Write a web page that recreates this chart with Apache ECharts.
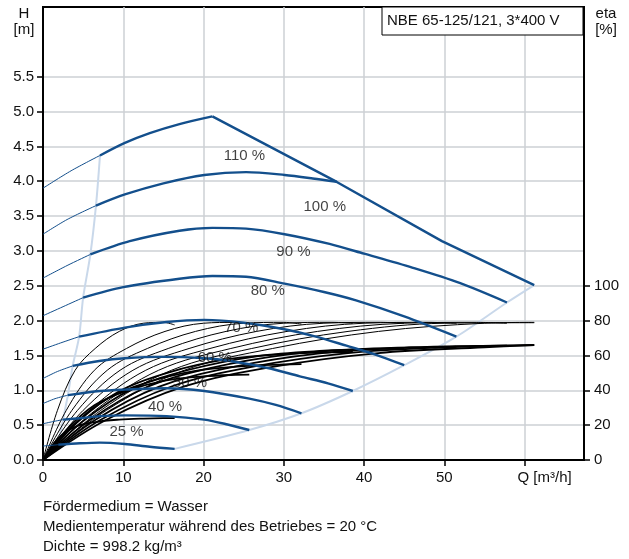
<!DOCTYPE html>
<html>
<head>
<meta charset="utf-8">
<script src="https://cdn.jsdelivr.net/npm/echarts@6/dist/echarts.min.js"></script>
<style>
html,body{margin:0;padding:0;background:#fff;}
#chart{width:629px;height:559px;}
</style>
</head>
<body>
<div id="chart"></div>
<script>
// ---------- data ----------
const xTicks = [0, 10, 20, 30, 40, 50, 60];
const hTicks = [0, 0.5, 1, 1.5, 2, 2.5, 3, 3.5, 4, 4.5, 5, 5.5];
const etaTicks = [0, 20, 40, 60, 80, 100];

// QH curves [Q m3/h, H m]
const qh110 = [[0,3.9],[3.5,4.15],[7.1,4.37],[10.2,4.55],[13.3,4.69],[17,4.82],[21.1,4.93]];
const qh100 = [[0,3.24],[3,3.45],[6.6,3.65],[10.2,3.81],[15,3.97],[20.1,4.09],[25.3,4.13],[30.1,4.09],[33.6,4.04],[36.6,3.99]];
const qh90  = [[0,2.61],[3,2.79],[5.9,2.95],[10.8,3.14],[17,3.29],[21.1,3.33],[25.3,3.32],[30.1,3.24],[35.7,3.1],[40,2.96],[46,2.76],[51.9,2.54],[57.8,2.26]];
const qh80  = [[0,2.07],[2.5,2.2],[5.0,2.33],[10,2.48],[17,2.6],[21.1,2.64],[25.3,2.63],[30.1,2.53],[35,2.41],[39,2.29],[45,2.06],[51.5,1.77]];
const qh70  = [[0,1.59],[2.2,1.68],[4.5,1.77],[10.2,1.9],[15.4,1.98],[20.1,2.01],[25,1.97],[29.9,1.88],[34,1.77],[37.8,1.64],[41.5,1.51],[45,1.36]];
const qh60  = [[0,1.17],[1.8,1.27],[3.7,1.35],[7,1.42],[10.2,1.46],[15,1.48],[20.1,1.46],[23.3,1.42],[28,1.32],[32,1.2],[35.5,1.1],[38.6,0.99]];
const qh50  = [[0,0.81],[1.5,0.88],[3.1,0.93],[7.1,0.99],[10.2,1.01],[15.4,1.03],[20.1,0.99],[25.7,0.88],[29,0.79],[32.2,0.67]];
const qh40  = [[0,0.52],[1.2,0.55],[2.5,0.58],[4.6,0.6],[7.1,0.63],[10.2,0.64],[15.4,0.63],[20.1,0.58],[23,0.51],[25.7,0.43]];
const qh25  = [[0,0.2],[1,0.21],[1.9,0.22],[4.6,0.24],[7.1,0.25],[10.2,0.23],[13.3,0.19],[16.4,0.16]];
const qhCurves = [qh110, qh100, qh90, qh80, qh70, qh60, qh50, qh40, qh25];
const minFlowIndex = [2, 2, 2, 2, 2, 2, 2, 2, 2];   // point where the thin part ends

const limitLine   = [[21.1,4.93],[36.6,3.99],[49.7,3.14],[61.2,2.51]];
const minFlowLine = [[1.9,0.22],[2.5,0.58],[3.1,0.93],[3.7,1.35],[4.5,1.77],[5.0,2.33],[5.9,2.95],[6.6,3.65],[7.1,4.37]];
const maxFlowLine = [[16.4,0.16],[25.7,0.43],[32.2,0.67],[38.6,0.99],[45,1.36],[51.5,1.77],[57.8,2.26],[61.2,2.51]];

// efficiency curves [Q m3/h, eta %] (thin: hydraulic, thick: total)
const etaHyd25  = [[0,0],[1.8,28.5],[4,51.5],[6.5,64],[9.5,73.8],[12.5,78.5],[15,79],[16.4,77.5]];
const etaHyd40  = [[0,0],[2.9,28.5],[6.4,51.5],[10.4,64],[15.2,73.8],[20,78.5],[24,79],[25.7,78]];
const etaHyd50  = [[0,0],[3.6,28.5],[8,51.5],[13,64],[19,73.8],[25,78.5],[30,79],[32.2,78]];
const etaHyd60  = [[0,0],[4.3,28.5],[9.6,51.5],[15.6,64],[22.8,73.8],[30,78.5],[36,79],[38.6,78.5]];
const etaHyd70  = [[0,0],[5,28.5],[11.2,51.5],[18.2,64],[26.6,73.8],[35,78.5],[42,79],[45,78.5]];
const etaHyd80  = [[0,0],[5.8,28.5],[12.8,51.5],[20.8,64],[30.4,73.8],[40,78.5],[48,79],[51.5,78.5]];
const etaHyd90  = [[0,0],[6.5,28.5],[14.4,51.5],[23.4,64],[34.2,73.8],[45,78.5],[54,79],[57.8,78.5]];
const etaHyd100 = [[0,0],[7.2,28.5],[16,51.5],[26,64],[38,73.8],[50,78.5],[61.2,78.8]];
const etaHyd110 = [[0,0],[7.9,28.5],[17.6,51.5],[28.6,64],[41.8,73.8],[55,78.5],[61.2,79]];
const etaHydCurves = [etaHyd25, etaHyd40, etaHyd50, etaHyd60, etaHyd70, etaHyd80, etaHyd90, etaHyd100, etaHyd110];

const etaTot25  = [[0,0],[1.8,12],[4,19],[6.5,21.8],[9.5,23.2],[12.5,23.8],[15,24],[16.4,24]];
const etaTot40  = [[0,0],[2.9,17.2],[6.4,31.4],[10.4,39.7],[15.2,45.6],[20,48],[24,48.9],[25.7,49]];
const etaTot50  = [[0,0],[3.6,19.3],[8,35.2],[13,44.6],[19,51.2],[25,53.9],[30,54.8],[32.2,55]];
const etaTot60  = [[0,0],[4.3,21.7],[9.6,39.7],[15.6,50.2],[22.8,57.7],[30,60.8],[36,61.8],[38.6,62]];
const etaTot70  = [[0,0],[5,22.4],[11.2,41],[18.2,51.8],[26.6,59.5],[35,62.7],[42,63.8],[45,64]];
const etaTot80  = [[0,0],[5.8,22.8],[12.8,41.6],[20.8,52.7],[30.4,60.5],[40,63.7],[48,64.8],[51.5,65]];
const etaTot90  = [[0,0],[6.5,23],[14.4,42],[23.4,53.2],[34.2,61.1],[45,64.4],[54,65.5],[57.8,65.7]];
const etaTot100 = [[0,0],[7.2,23.1],[16,42.2],[26,53.5],[38,61.4],[50,64.7],[61.2,66]];
const etaTot110 = [[0,0],[7.9,23.1],[17.6,42.2],[28.6,53.5],[41.8,61.4],[55,64.7],[61.2,66]];
const etaTotCurves = [etaTot25, etaTot40, etaTot50, etaTot60, etaTot70, etaTot80, etaTot90, etaTot100, etaTot110];

const speedLabels = ['110 %', '100 %', '90 %', '80 %', '70 %', '60 %', '50 %', '40 %', '25 %'];
const speedLabelAt = [[25.1,4.36],[35.1,3.63],[31.2,2.99],[28,2.42],[24.7,1.9],[21.4,1.46],[18.3,1.1],[15.2,0.76],[10.4,0.4]];

const title = 'NBE 65-125/121, 3*400 V';
const notes = ['Fördermedium = Wasser', 'Medientemperatur während des Betriebes = 20 °C', 'Dichte = 998.2 kg/m³'];

// ---------- chart ----------
const FONT = '"Liberation Sans", Arial, sans-serif';
const BLUE = '#134f8c';
const LIGHT = '#c9d8ea';
const GRIDC = '#cdd1d5';

const series = [];
series.push({type:'line', data: minFlowLine, smooth: 0.3, symbol:'none', z:1,
  lineStyle:{color: LIGHT, width: 2}, silent:true});
series.push({type:'line', data: maxFlowLine, smooth: 0.3, symbol:'none', z:1,
  lineStyle:{color: LIGHT, width: 2}, silent:true});
etaHydCurves.forEach(c => series.push({type:'line', yAxisIndex:1, data:c, smooth:0.35, symbol:'none', z:2,
  lineStyle:{color:'#000', width:1}, silent:true}));
etaTotCurves.forEach(c => series.push({type:'line', yAxisIndex:1, data:c, smooth:0.35, symbol:'none', z:2,
  lineStyle:{color:'#000', width:1.8}, silent:true}));
qhCurves.forEach((c, i) => {
  const k = minFlowIndex[i];
  series.push({type:'line', data: c.slice(0, k + 1), smooth:0.3, symbol:'none', z:3,
    lineStyle:{color: BLUE, width: 1}, silent:true});
  series.push({type:'line', data: c.slice(k), smooth:0.3, symbol:'none', z:3,
    lineStyle:{color: BLUE, width: 2.4}, silent:true});
});
series.push({type:'line', data: limitLine, smooth:false, symbol:'none', z:3,
  lineStyle:{color: BLUE, width: 2.4}, silent:true});
series.push({type:'scatter', z:5, symbolSize:1, itemStyle:{color:'transparent'}, silent:true,
  data: speedLabels.map((n, i) => ({name:n, value: speedLabelAt[i]})),
  label:{show:true, position:'inside', formatter:'{b}', color:'#111', fontSize:15, fontFamily:FONT}});

const chart = echarts.init(document.getElementById('chart'), null, {renderer:'canvas'});
chart.setOption({
  animation:false,
  backgroundColor:'#fff',
  grid:{left:43, right:45, top:7, bottom:99, show:true, borderColor:'#000', borderWidth:2, backgroundColor:'transparent'},
  xAxis:{type:'value', min:0, max:67.4, interval:10,
    axisLine:{show:true, onZero:false, lineStyle:{color:'#000', width:2}},
    axisTick:{show:true, inside:false, length:6, lineStyle:{color:'#000', width:1.5}, customValues: xTicks},
    axisLabel:{customValues: xTicks, margin:10, color:'#111', fontSize:15, fontFamily:FONT,
      formatter: v => v === 60 ? '{q|Q [m³/h]}' : (xTicks.indexOf(v) >= 0 ? String(v) : ''),
      rich:{q:{fontSize:15, fontFamily:FONT, color:'#111', padding:[0,0,0,40]}}},
    splitLine:{show:true, lineStyle:{color:GRIDC, width:1.5}}},
  yAxis:[
    {type:'value', min:0, max:6.5, interval:0.5, position:'left',
      axisLine:{show:true, onZero:false, lineStyle:{color:'#000', width:2}},
      axisTick:{show:true, inside:false, length:6, lineStyle:{color:'#000', width:1.5}, customValues: hTicks},
      axisLabel:{customValues: hTicks, margin:9, color:'#111', fontSize:15, fontFamily:FONT,
        formatter: v => v <= 5.5 ? v.toFixed(1) : ''},
      splitLine:{show:true, lineStyle:{color:GRIDC, width:1.5}}},
    {type:'value', min:0, max:260, interval:20, position:'right',
      axisLine:{show:true, onZero:false, lineStyle:{color:'#000', width:2}},
      axisTick:{show:true, inside:false, length:6, lineStyle:{color:'#000', width:1.5}, customValues: etaTicks},
      axisLabel:{customValues: etaTicks, margin:10, color:'#111', fontSize:15, fontFamily:FONT,
        formatter: v => v <= 100 ? String(v) : ''},
      splitLine:{show:false}}
  ],
  graphic:[
    {type:'text', x:24, y:14, style:{text:'H', fill:'#111', font:'15px ' + FONT, textAlign:'center', textVerticalAlign:'middle'}},
    {type:'text', x:24, y:30, style:{text:'[m]', fill:'#111', font:'15px ' + FONT, textAlign:'center', textVerticalAlign:'middle'}},
    {type:'text', x:606, y:14, style:{text:'eta', fill:'#111', font:'15px ' + FONT, textAlign:'center', textVerticalAlign:'middle'}},
    {type:'text', x:606, y:30, style:{text:'[%]', fill:'#111', font:'15px ' + FONT, textAlign:'center', textVerticalAlign:'middle'}},
    {type:'rect', z:10, shape:{x:382, y:7, width:201, height:28}, style:{fill:'#fff', stroke:'#000', lineWidth:1}},
    {type:'text', z:11, x:387, y:21, style:{text:title, fill:'#111', font:'15px ' + FONT, textAlign:'left', textVerticalAlign:'middle'}},
    {type:'text', x:43, y:507, style:{text:notes[0], fill:'#111', font:'15px ' + FONT, textAlign:'left', textVerticalAlign:'middle'}},
    {type:'text', x:43, y:527, style:{text:notes[1], fill:'#111', font:'15px ' + FONT, textAlign:'left', textVerticalAlign:'middle'}},
    {type:'text', x:43, y:547, style:{text:notes[2], fill:'#111', font:'15px ' + FONT, textAlign:'left', textVerticalAlign:'middle'}}
  ],
  series: series
});
</script>
</body>
</html>
